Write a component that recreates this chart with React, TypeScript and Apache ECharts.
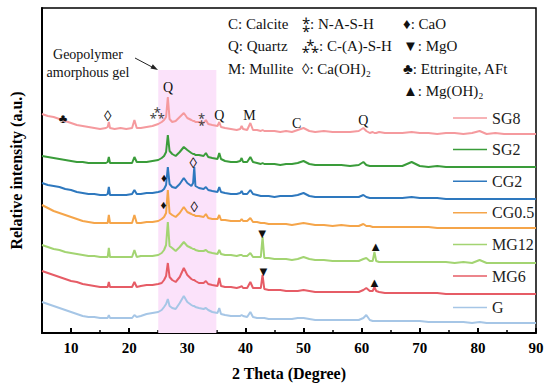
import React, { useEffect, useRef } from "react";
import * as echarts from "echarts";

const theta = [5, 6, 7, 8, 9, 10, 11, 12, 13, 14, 15, 16, 16.3, 16.5, 16.7, 17.5, 18.5, 19.5, 20.5, 20.9, 21.3, 22, 23, 24, 25, 25.6, 26.0, 26.35, 26.65, 26.95, 27.4, 28, 28.7, 29.4, 30.0, 30.7, 31.0, 31.2, 31.4, 32, 32.8, 33.2, 33.6, 34.3, 35.2, 35.5, 35.8, 36.5, 37.5, 38.5, 39.1, 39.35, 39.6, 40.3, 40.85, 41.3, 42, 42.65, 42.95, 43.25, 44, 45, 46, 47, 48, 49, 50, 51, 52, 53.5, 55, 56.5, 58, 59.5, 60.3, 60.8, 61.4, 61.9, 62.2, 62.5, 63, 64, 65.5, 67, 68.6, 70, 71.5, 73, 74.5, 76, 77.5, 79, 80.3, 81.5, 83, 84.5, 86, 87.5, 89, 90];

const sg8 = [219, 217, 216, 214, 212, 210, 208, 207, 206, 205, 204, 205, 206, 211, 205, 204, 205, 204, 205, 213, 205, 205, 206, 207, 209, 211, 213, 216, 236, 214, 211, 212, 216, 220, 215, 213, 212, 212, 211, 211, 210, 213, 209, 208, 207, 211, 206, 205, 204, 203, 204, 207, 204, 203, 210, 203, 203, 202, 203, 202, 202, 202, 201, 202, 201, 203, 205, 202, 201, 202, 201, 201, 201, 202, 205, 202, 200, 201, 200, 200, 201, 200, 200, 200, 201, 200, 200, 199, 200, 200, 199, 200, 202, 199, 200, 199, 199, 199, 199, 199];
const sg2 = [177, 176, 175, 174, 173, 172, 171, 171, 170, 170, 170, 170, 171, 176, 170, 170, 170, 170, 170, 176, 171, 171, 171, 172, 173, 175, 177, 181, 198, 182, 179, 177, 181, 186, 183, 180, 179, 179, 178, 178, 177, 180, 176, 175, 174, 180, 174, 172, 171, 171, 172, 175, 171, 171, 176, 171, 170, 169, 170, 169, 169, 169, 168, 169, 169, 170, 172, 169, 168, 168, 168, 168, 167, 168, 171, 168, 167, 167, 167, 167, 167, 167, 167, 167, 171, 167, 166, 167, 166, 166, 166, 166, 166, 166, 166, 166, 166, 166, 166, 166];
const cg2 = [150, 148, 147, 146, 144, 143, 141, 140, 139, 139, 138, 138, 139, 146, 138, 138, 138, 138, 139, 143, 139, 139, 140, 140, 141, 142, 144, 148, 166, 149, 146, 145, 149, 155, 150, 147, 150, 166, 147, 145, 144, 146, 143, 142, 141, 146, 141, 140, 139, 139, 140, 142, 139, 139, 143, 139, 138, 137, 137, 137, 137, 136, 137, 137, 137, 138, 140, 137, 136, 136, 136, 136, 136, 136, 138, 136, 135, 135, 135, 135, 135, 135, 135, 135, 136, 135, 135, 135, 134, 134, 134, 134, 134, 134, 134, 134, 134, 134, 134, 134];
const cg05 = [128, 125, 122, 120, 118, 116, 114, 112, 111, 110, 110, 110, 110, 118, 110, 110, 110, 110, 110, 118, 110, 110, 111, 111, 112, 114, 116, 120, 143, 120, 118, 116, 120, 126, 121, 119, 118, 118, 117, 117, 116, 119, 115, 114, 114, 118, 113, 113, 112, 112, 112, 114, 112, 112, 115, 111, 111, 110, 110, 110, 109, 109, 109, 109, 108, 109, 110, 109, 108, 108, 107, 108, 107, 107, 109, 107, 107, 106, 106, 106, 106, 106, 106, 106, 106, 106, 106, 105, 105, 105, 105, 105, 105, 105, 105, 105, 105, 105, 105, 105];
const mg12 = [88, 86, 84, 83, 81, 80, 79, 78, 77, 77, 76, 76, 76, 85, 76, 76, 76, 76, 76, 83, 76, 77, 77, 77, 78, 80, 83, 88, 111, 87, 85, 82, 86, 91, 87, 85, 84, 84, 83, 82, 82, 83, 81, 80, 79, 83, 79, 78, 78, 77, 78, 78, 77, 77, 80, 76, 76, 76, 96, 75, 75, 74, 74, 74, 73, 74, 76, 74, 73, 73, 72, 72, 72, 72, 74, 75, 72, 72, 81, 72, 71, 71, 71, 71, 71, 71, 71, 71, 71, 70, 71, 70, 73, 70, 70, 70, 70, 70, 70, 70];
const mg6 = [62, 60, 58, 56, 54, 52, 51, 49, 48, 47, 46, 46, 46, 51, 46, 46, 46, 46, 46, 51, 46, 47, 48, 48, 49, 50, 53, 57, 70, 56, 53, 51, 56, 65, 58, 54, 53, 53, 52, 50, 50, 52, 49, 48, 47, 55, 47, 46, 46, 45, 46, 47, 45, 45, 51, 45, 45, 45, 58, 44, 43, 43, 43, 42, 42, 42, 43, 42, 41, 41, 41, 41, 41, 41, 43, 45, 42, 42, 46, 42, 41, 40, 40, 40, 40, 40, 40, 40, 39, 39, 39, 39, 39, 39, 39, 39, 39, 39, 39, 39];
const g = [31, 29, 27, 25, 23, 21, 19, 17, 16, 16, 15, 15, 15, 18, 15, 15, 15, 15, 15, 18, 16, 17, 19, 20, 21, 23, 26, 29, 34, 27, 25, 24, 30, 37, 31, 28, 27, 27, 26, 25, 24, 25, 23, 21, 20, 25, 19, 18, 17, 17, 17, 18, 17, 16, 21, 16, 15, 15, 15, 15, 14, 14, 14, 14, 14, 15, 15, 14, 13, 13, 13, 13, 13, 13, 15, 18, 13, 12, 12, 12, 12, 12, 12, 12, 12, 12, 11, 11, 11, 11, 11, 10, 11, 10, 10, 10, 10, 10, 10, 10];

const seriesNames = ["SG8", "SG2", "CG2", "CG0.5", "MG12", "MG6", "G"];
const seriesValues = [sg8, sg2, cg2, cg05, mg12, mg6, g];
const seriesColors = ["#f59a9e", "#3a9c3a", "#2e78be", "#f5a54a", "#a3d472", "#e65c66", "#a6c6e6"];

// peak annotations: [glyph, 2theta, height]
const sg8Marks: [string, number, number][] = [["♣", 8.6, 215], ["◊", 16.3, 217], ["⁂", 24.8, 221], ["Q", 26.7, 246], ["⁑", 32.4, 215], ["Q", 35.5, 218], ["M", 40.7, 218], ["C", 48.8, 210], ["Q", 60.3, 213]];
const cg2Marks: [string, number, number][] = [["♦", 26.0, 155], ["◊", 31.0, 170]];
const cg05Marks: [string, number, number][] = [["♦", 25.9, 128], ["◊", 31.2, 126]];
const mg12Marks: [string, number, number][] = [["▼", 42.9, 100], ["▲", 62.4, 87]];
const mg6Marks: [string, number, number][] = [["▼", 43.1, 62], ["▲", 62.2, 51]];
const seriesMarks = [sg8Marks, [], cg2Marks, cg05Marks, mg12Marks, mg6Marks, []];

const xTickLabels = [10, 20, 30, 40, 50, 60, 70, 80, 90];
const xMinorTicks = [15, 25, 35, 45, 55, 65, 75, 85];
const gelBand = [25, 35, 263];

const phaseKey = [
  ["C: Calcite", "Q: Quartz", "M: Mullite"],
  ["⁑: N-A-S-H", "⁂: C-(A)-S-H", "◊: Ca(OH)₂"],
  ["♦: CaO", "▼: MgO", "♣: Ettringite, AFt", "▲: Mg(OH)₂"],
];

const FONT = "'Times New Roman', 'Liberation Serif', serif";

function glyphSize(t: string) {
  if (t === "Q" || t === "M" || t === "C") return 14;
  if (t === "◊") return 15;
  if (t === "♦") return 12;
  if (t === "⁂" || t === "⁑") return 13;
  return 13;
}

export default function App() {
  const ref = useRef<HTMLDivElement>(null);
  useEffect(() => {
    const chart = echarts.init(ref.current!, null, { renderer: "svg" });
    const series: any[] = [
      {
        name: "band",
        type: "line",
        data: [],
        z: 1,
        silent: true,
        markArea: {
          silent: true,
          itemStyle: { color: "#fbe2fa" },
          data: [[{ coord: [gelBand[0], 0] }, { coord: [gelBand[1], gelBand[2]] }]],
        },
      },
    ];
    seriesNames.forEach((name, i) => {
      series.push({
        name,
        type: "line",
        symbol: "none",
        z: 3,
        data: theta.map((t, j) => [t, seriesValues[i][j]]),
        lineStyle: { color: seriesColors[i], width: 2 },
        itemStyle: { color: seriesColors[i] },
        markPoint: {
          silent: true,
          symbol: "circle",
          symbolSize: 0,
          data: seriesMarks[i].map(([txt, x, y]) => ({
            coord: [x, y],
            label: {
              show: true,
              position: "inside",
              formatter: txt,
              color: txt === "⁂" || txt === "⁑" ? "#444" : "#111",
              fontSize: glyphSize(txt),
              fontFamily: FONT,
            },
          })),
        },
      });
    });

    const graphics: any[] = [];
    const colX = [228, 302, 403];
    const rowY = [24, 46, 69, 91];
    phaseKey.forEach((col, c) => {
      col.forEach((txt, r) => {
        graphics.push({
          type: "text",
          x: colX[c],
          y: rowY[r],
          style: { text: txt, fontSize: 15, fontFamily: FONT, fill: "#111", verticalAlign: "middle", align: "left" },
        });
      });
    });
    graphics.push({
      type: "text",
      x: 88,
      y: 54,
      style: { text: "Geopolymer", fontSize: 14, fontFamily: FONT, fill: "#111", align: "center", verticalAlign: "middle" },
    });
    graphics.push({
      type: "text",
      x: 88,
      y: 72,
      style: { text: "amorphous gel", fontSize: 14, fontFamily: FONT, fill: "#111", align: "center", verticalAlign: "middle" },
    });
    graphics.push({
      type: "line",
      shape: { x1: 135, y1: 58, x2: 152, y2: 67 },
      style: { stroke: "#222", lineWidth: 1 },
    });
    graphics.push({
      type: "polygon",
      shape: { points: [[158, 70], [150.5, 68.5], [152.8, 64.2]] },
      style: { fill: "#222" },
    });

    chart.setOption({
      animation: false,
      backgroundColor: "#fff",
      grid: { left: 40, right: 14, top: 8, bottom: 57, show: true, borderColor: "#000", borderWidth: 1.5, backgroundColor: "transparent" },
      legend: {
        data: seriesNames.map((n) => ({ name: n, icon: "rect" })),
        orient: "vertical",
        left: 448,
        top: 105,
        itemWidth: 34,
        itemHeight: 1.5,
        itemGap: 15.6,
        textStyle: { fontSize: 16, fontFamily: FONT, color: "#222" },
        selectedMode: false,
      },
      xAxis: [
        {
          type: "value",
          min: 5,
          max: 90,
          position: "bottom",
          name: "2 Theta (Degree)",
          nameLocation: "middle",
          nameGap: 32,
          nameTextStyle: { fontSize: 16, fontWeight: "bold", fontFamily: FONT, color: "#000" },
          axisLine: { show: true, lineStyle: { color: "#000", width: 2 } },
          axisTick: { show: true, inside: true, length: 5, customValues: xTickLabels, lineStyle: { color: "#000", width: 2 } },
          axisLabel: { customValues: xTickLabels, fontSize: 15, fontWeight: "bold", fontFamily: FONT, color: "#000", margin: 7 },
          splitLine: { show: false },
        },
        {
          type: "value",
          min: 5,
          max: 90,
          position: "bottom",
          axisLine: { show: false },
          axisTick: { show: true, inside: true, length: 3, customValues: xMinorTicks, lineStyle: { color: "#000", width: 1.5 } },
          axisLabel: { show: false },
          splitLine: { show: false },
        },
      ],
      yAxis: {
        type: "value",
        min: 0,
        max: 325,
        name: "Relative intensity (a.u.)",
        nameLocation: "middle",
        nameGap: 18,
        nameTextStyle: { fontSize: 16, fontWeight: "bold", fontFamily: FONT, color: "#000" },
        axisLine: { show: true, lineStyle: { color: "#000", width: 2 } },
        axisTick: { show: false },
        axisLabel: { show: false },
        splitLine: { show: false },
      },
      series,
      graphic: graphics,
    });
    return () => chart.dispose();
  }, []);
  return <div ref={ref} style={{ position: "absolute", left: 0, top: 0, width: 550, height: 390 }} />;
}
